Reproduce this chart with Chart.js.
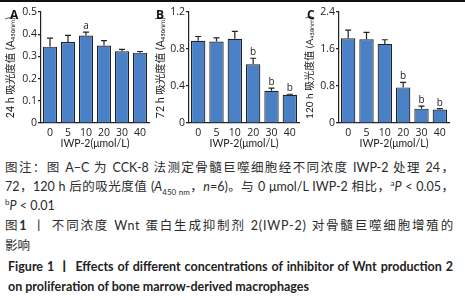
<!DOCTYPE html>
<html>
<head>
<meta charset="utf-8">
<script src="https://cdn.jsdelivr.net/npm/chart.js@4.4.1/dist/chart.umd.min.js"></script>
<style>
  body { margin: 0; width: 465px; height: 300px; background: #fff; position: relative; overflow: hidden;
         font-family: Lato, "Noto Sans CJK SC", sans-serif; color: #2b2b2b; }
  .topline { position: absolute; left: 0; top: 0; width: 465px; height: 2px; background: #111; }
  .panel { position: absolute; top: 0; width: 155px; height: 152px; }
  .letter { position: absolute; top: 6px; font: bold 12px "Open Sans", sans-serif; color: #111; }
  .cap { position: absolute; left: 5px; width: 449px; white-space: nowrap; font-size: 12.5px; line-height: 16px;
         font-family: Lato, "Noto Sans CJK SC", sans-serif; }
  .j { white-space: normal; text-align: justify; text-align-last: justify; height: 16px; overflow: hidden; }
  .ls { letter-spacing: 0.8px; }
  .en { font-weight: bold; color: #222; }
  sub, sup { font-size: 8px; line-height: 0; }
</style>
</head>
<body>
<div class="topline"></div>

<div class="panel" style="left:0"><canvas id="chartA"></canvas></div>
<div class="panel" style="left:150px"><canvas id="chartB"></canvas></div>
<div class="panel" style="left:300px"><canvas id="chartC"></canvas></div>
<div class="letter" style="left:10px">A</div>
<div class="letter" style="left:156px">B</div>
<div class="letter" style="left:307px">C</div>

<div class="cap j" style="top:160px">图注：图 A−C 为 CCK-8 法测定骨髓巨噬细胞经不同浓度 IWP-2 处理 24，</div>
<div class="cap j" style="top:179px">72，120 h 后的吸光度值 (<i>A</i><sub>450 nm</sub>，<i>n</i>=6)。与 0 μmol/L IWP-2 相比，<sup>a</sup><i>P</i> &lt; 0.05，</div>
<div class="cap" style="top:198px"><sup>b</sup><i>P</i> &lt; 0.01</div>
<div class="cap j ls" style="top:218px">图<b>1</b> 丨 不同浓度 Wnt 蛋白生成抑制剂 2(IWP-2) 对骨髓巨噬细胞增殖的</div>
<div class="cap" style="top:238px">影响</div>
<div class="cap j en" style="top:259px; left:8px; width:445px">Figure 1 丨 Effects of different concentrations of inhibitor of Wnt production 2</div>
<div class="cap en" style="top:279px; left:8px">on proliferation of bone marrow-derived macrophages</div>

<script>
'use strict'

const doses = ['0', '5', '10', '20', '30', '40'];

const od24 = [0.344, 0.365, 0.394, 0.349, 0.323, 0.317];
const sd24 = [0.038, 0.030, 0.015, 0.022, 0.009, 0.005];
const sig24 = ['', '', 'a', '', '', ''];
const ticks24 = [0, 0.1, 0.2, 0.3, 0.4, 0.5];

const od72 = [0.89, 0.88, 0.91, 0.634, 0.348, 0.305];
const sd72 = [0.045, 0.04, 0.08, 0.066, 0.028, 0.006];
const sig72 = ['', '', '', 'b', 'b', 'b'];
const ticks72 = [0, 0.4, 0.8, 1.2];

const od120 = [1.83, 1.81, 1.71, 0.77, 0.31, 0.29];
const sd120 = [0.18, 0.15, 0.09, 0.11, 0.055, 0.02];
const sig120 = ['', '', '', 'b', 'b', 'b'];
const ticks120 = [0, 0.8, 1.6, 2.4];

const barColor = '#4a80c6';
const inkColor = '#222';

// draws error bars and significance letters above each bar
const errorBars = {
    id: 'errorBars',
    afterDatasetsDraw(chart) {
        const ds = chart.data.datasets[0];
        const meta = chart.getDatasetMeta(0);
        const y = chart.scales.y;
        const ctx = chart.ctx;
        ctx.save();
        ctx.strokeStyle = inkColor;
        ctx.fillStyle = inkColor;
        ctx.lineWidth = 1.2;
        ctx.font = '10px "Open Sans", sans-serif';
        ctx.textAlign = 'center';
        ctx.textBaseline = 'bottom';
        meta.data.forEach((bar, i) => {
            const top = y.getPixelForValue(ds.data[i] + ds.errors[i]);
            ctx.beginPath();
            ctx.moveTo(bar.x, bar.y);
            ctx.lineTo(bar.x, top);
            ctx.moveTo(bar.x - 3, top);
            ctx.lineTo(bar.x + 3, top);
            ctx.stroke();
            if (ds.marks[i]) {
                ctx.fillText(ds.marks[i], bar.x, top - 1);
            }
        });
        ctx.restore();
    }
};

function makeChart(id, values, errors, marks, ticks, title, yWidth, titleSize) {
    const max = ticks[ticks.length - 1];
    return new Chart(document.getElementById(id), {
        type: 'bar',
        data: {
            labels: doses,
            datasets: [{
                data: values,
                errors: errors,
                marks: marks,
                backgroundColor: barColor,
                borderColor: inkColor,
                borderWidth: 1.2,
                categoryPercentage: 0.8,
                barPercentage: 0.98
            }]
        },
        options: {
            responsive: false,
            animation: false,
            layout: { padding: { top: 12, right: 6, left: 0, bottom: 0 } },
            plugins: { legend: { display: false }, tooltip: { enabled: false } },
            scales: {
                x: {
                    grid: { display: false, drawTicks: false },
                    border: { color: inkColor, width: 1.2 },
                    ticks: { color: inkColor, padding: 4, maxRotation: 0, minRotation: 0, autoSkip: false,
                             font: { family: '"Open Sans"', size: 10.5 } },
                    title: { display: true, text: 'IWP-2(μmol/L)', color: inkColor, padding: { top: 0, bottom: 2 },
                             font: { family: 'Lato, "Noto Sans CJK SC"', size: 10.5 } },
                    afterFit(scale) { scale.height = 29; }
                },
                y: {
                    min: 0,
                    max: max,
                    afterBuildTicks(scale) { scale.ticks = ticks.map(v => ({ value: v })); },
                    grid: { drawOnChartArea: false, tickLength: 3, color: inkColor, lineWidth: 1.2 },
                    border: { color: inkColor, width: 1.2 },
                    ticks: { color: inkColor, padding: 1, font: { family: '"Open Sans"', size: 10.5 },
                             callback: v => v === 0 ? '0' : v.toFixed(1) },
                    title: { display: true, text: title, color: inkColor, padding: { top: 4, bottom: 0 },
                             font: { family: 'Lato, "Noto Sans CJK SC"', size: titleSize } },
                    afterFit(scale) { scale.width = yWidth; }
                }
            }
        },
        plugins: [errorBars]
    });
}

for (const id of ['chartA', 'chartB', 'chartC']) {
    const c = document.getElementById(id);
    c.width = 155;
    c.height = 152;
}

makeChart('chartA', od24, sd24, sig24, ticks24, '24 h 吸光度值 (A₄₅₀ₙₘ)', 41, 10.5);
makeChart('chartB', od72, sd72, sig72, ticks72, '72 h 吸光度值 (A₄₅₀ₙₘ)', 39, 10.5);
makeChart('chartC', od120, sd120, sig120, ticks120, '120 h 吸光度值 (A₄₅₀ₙₘ)', 39, 10);
</script>
</body>
</html>
